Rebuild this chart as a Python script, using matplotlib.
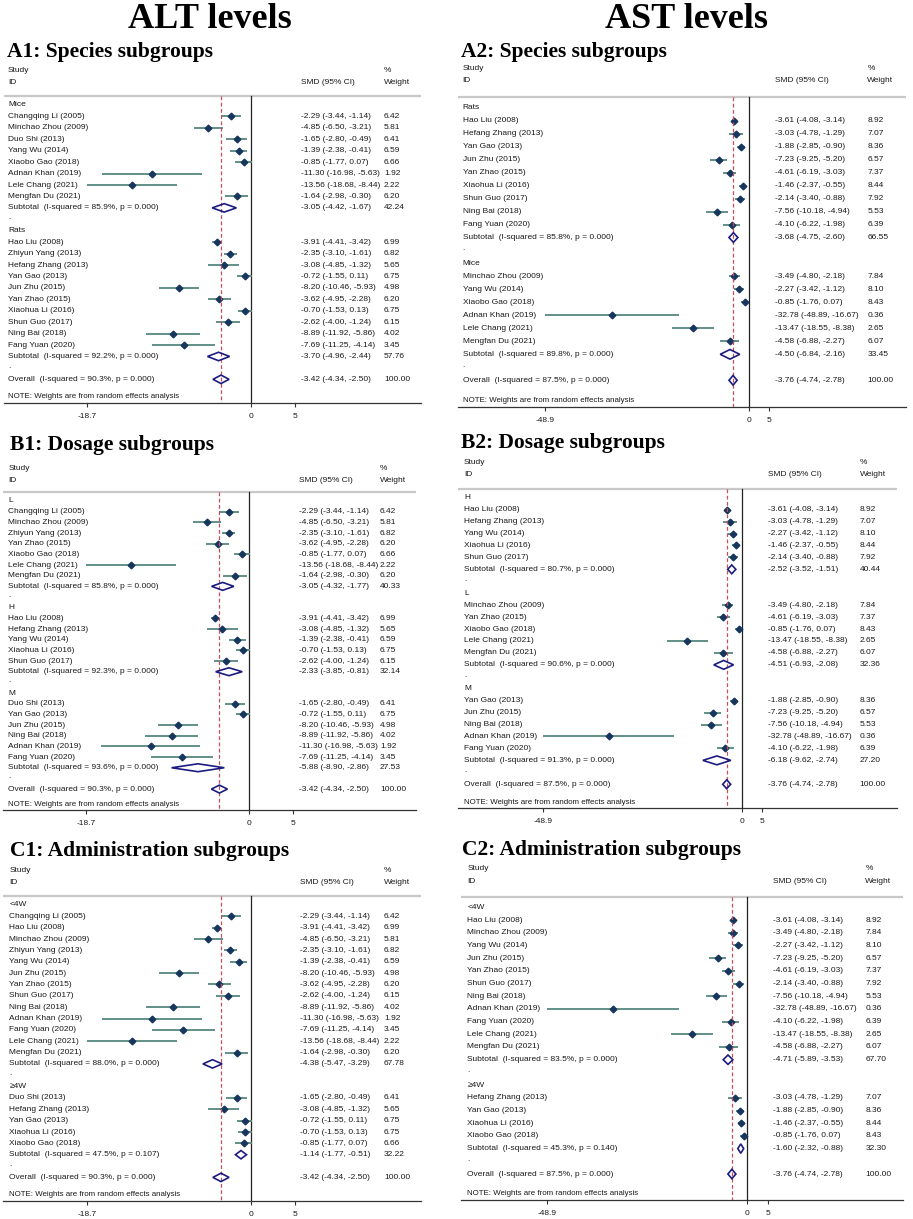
import numpy as np
import matplotlib
matplotlib.use('Agg')
import matplotlib.pyplot as plt
from matplotlib.patches import Polygon

W, H = 913, 1219

# ---- ALT studies ----
alt_study = ['Changqing Li (2005)', 'Minchao Zhou (2009)', 'Duo Shi (2013)', 'Yang Wu (2014)',
             'Xiaobo Gao (2018)', 'Adnan Khan (2019)', 'Lele Chang (2021)', 'Mengfan Du (2021)',
             'Hao Liu (2008)', 'Zhiyun Yang (2013)', 'Hefang Zhang (2013)', 'Yan Gao (2013)',
             'Jun Zhu (2015)', 'Yan Zhao (2015)', 'Xiaohua Li (2016)', 'Shun Guo (2017)',
             'Ning Bai (2018)', 'Fang Yuan (2020)']
alt_smd = [-2.29, -4.85, -1.65, -1.39, -0.85, -11.30, -13.56, -1.64, -3.91,
           -2.35, -3.08, -0.72, -8.20, -3.62, -0.70, -2.62, -8.89, -7.69]
alt_lo = [-3.44, -6.50, -2.80, -2.38, -1.77, -16.98, -18.68, -2.98, -4.41,
          -3.10, -4.85, -1.55, -10.46, -4.95, -1.53, -4.00, -11.92, -11.25]
alt_hi = [-1.14, -3.21, -0.49, -0.41, 0.07, -5.63, -8.44, -0.30, -3.42,
          -1.61, -1.32, 0.11, -5.93, -2.28, 0.13, -1.24, -5.86, -4.14]
alt_wt = [6.42, 5.81, 6.41, 6.59, 6.66, 1.92, 2.22, 6.20, 6.99,
          6.82, 5.65, 6.75, 4.98, 6.20, 6.75, 6.15, 4.02, 3.45]
alt_overall = [-3.42, -4.34, -2.50]
alt_overall_i2, alt_overall_p = 90.3, 0.000

# ---- AST studies ----
ast_study = ['Hao Liu (2008)', 'Hefang Zhang (2013)', 'Yan Gao (2013)', 'Jun Zhu (2015)',
             'Yan Zhao (2015)', 'Xiaohua Li (2016)', 'Shun Guo (2017)', 'Ning Bai (2018)',
             'Fang Yuan (2020)', 'Minchao Zhou (2009)', 'Yang Wu (2014)', 'Xiaobo Gao (2018)',
             'Adnan Khan (2019)', 'Lele Chang (2021)', 'Mengfan Du (2021)']
ast_smd = [-3.61, -3.03, -1.88, -7.23, -4.61, -1.46, -2.14, -7.56,
           -4.10, -3.49, -2.27, -0.85, -32.78, -13.47, -4.58]
ast_lo = [-4.08, -4.78, -2.85, -9.25, -6.19, -2.37, -3.40, -10.18,
          -6.22, -4.80, -3.42, -1.76, -48.89, -18.55, -6.88]
ast_hi = [-3.14, -1.29, -0.90, -5.20, -3.03, -0.55, -0.88, -4.94,
          -1.98, -2.18, -1.12, 0.07, -16.67, -8.38, -2.27]
ast_wt = [8.92, 7.07, 8.36, 6.57, 7.37, 8.44, 7.92, 5.53,
          6.39, 7.84, 8.10, 8.43, 0.36, 2.65, 6.07]
ast_overall = [-3.76, -4.74, -2.78]
ast_overall_i2, ast_overall_p = 87.5, 0.000

# ---- subgroups ----
a1_groups = ['Mice', 'Rats']
a1_members = [['Changqing Li (2005)', 'Minchao Zhou (2009)', 'Duo Shi (2013)', 'Yang Wu (2014)',
               'Xiaobo Gao (2018)', 'Adnan Khan (2019)', 'Lele Chang (2021)', 'Mengfan Du (2021)'],
              ['Hao Liu (2008)', 'Zhiyun Yang (2013)', 'Hefang Zhang (2013)', 'Yan Gao (2013)',
               'Jun Zhu (2015)', 'Yan Zhao (2015)', 'Xiaohua Li (2016)', 'Shun Guo (2017)',
               'Ning Bai (2018)', 'Fang Yuan (2020)']]
a1_i2 = [85.9, 92.2]
a1_p = [0.000, 0.000]
a1_sub = [[-3.05, -4.42, -1.67], [-3.70, -4.96, -2.44]]
a1_sub_wt = [42.24, 57.76]

b1_groups = ['L', 'H', 'M']
b1_members = [['Changqing Li (2005)', 'Minchao Zhou (2009)', 'Zhiyun Yang (2013)', 'Yan Zhao (2015)',
               'Xiaobo Gao (2018)', 'Lele Chang (2021)', 'Mengfan Du (2021)'],
              ['Hao Liu (2008)', 'Hefang Zhang (2013)', 'Yang Wu (2014)', 'Xiaohua Li (2016)',
               'Shun Guo (2017)'],
              ['Duo Shi (2013)', 'Yan Gao (2013)', 'Jun Zhu (2015)', 'Ning Bai (2018)',
               'Adnan Khan (2019)', 'Fang Yuan (2020)']]
b1_i2 = [85.8, 92.3, 93.6]
b1_p = [0.000, 0.000, 0.000]
b1_sub = [[-3.05, -4.32, -1.77], [-2.33, -3.85, -0.81], [-5.88, -8.90, -2.86]]
b1_sub_wt = [40.33, 32.14, 27.53]

c1_groups = ['<4W', '\u22654W']
c1_members = [['Changqing Li (2005)', 'Hao Liu (2008)', 'Minchao Zhou (2009)', 'Zhiyun Yang (2013)',
               'Yang Wu (2014)', 'Jun Zhu (2015)', 'Yan Zhao (2015)', 'Shun Guo (2017)',
               'Ning Bai (2018)', 'Adnan Khan (2019)', 'Fang Yuan (2020)', 'Lele Chang (2021)',
               'Mengfan Du (2021)'],
              ['Duo Shi (2013)', 'Hefang Zhang (2013)', 'Yan Gao (2013)', 'Xiaohua Li (2016)',
               'Xiaobo Gao (2018)']]
c1_i2 = [88.0, 47.5]
c1_p = [0.000, 0.107]
c1_sub = [[-4.38, -5.47, -3.29], [-1.14, -1.77, -0.51]]
c1_sub_wt = [67.78, 32.22]

a2_groups = ['Rats', 'Mice']
a2_members = [['Hao Liu (2008)', 'Hefang Zhang (2013)', 'Yan Gao (2013)', 'Jun Zhu (2015)',
               'Yan Zhao (2015)', 'Xiaohua Li (2016)', 'Shun Guo (2017)', 'Ning Bai (2018)',
               'Fang Yuan (2020)'],
              ['Minchao Zhou (2009)', 'Yang Wu (2014)', 'Xiaobo Gao (2018)', 'Adnan Khan (2019)',
               'Lele Chang (2021)', 'Mengfan Du (2021)']]
a2_i2 = [85.8, 89.8]
a2_p = [0.000, 0.000]
a2_sub = [[-3.68, -4.75, -2.60], [-4.50, -6.84, -2.16]]
a2_sub_wt = [66.55, 33.45]

b2_groups = ['H', 'L', 'M']
b2_members = [['Hao Liu (2008)', 'Hefang Zhang (2013)', 'Yang Wu (2014)', 'Xiaohua Li (2016)',
               'Shun Guo (2017)'],
              ['Minchao Zhou (2009)', 'Yan Zhao (2015)', 'Xiaobo Gao (2018)', 'Lele Chang (2021)',
               'Mengfan Du (2021)'],
              ['Yan Gao (2013)', 'Jun Zhu (2015)', 'Ning Bai (2018)', 'Adnan Khan (2019)',
               'Fang Yuan (2020)']]
b2_i2 = [80.7, 90.6, 91.3]
b2_p = [0.000, 0.000, 0.000]
b2_sub = [[-2.52, -3.52, -1.51], [-4.51, -6.93, -2.08], [-6.18, -9.62, -2.74]]
b2_sub_wt = [40.44, 32.36, 27.20]

c2_groups = ['<4W', '\u22654W']
c2_members = [['Hao Liu (2008)', 'Minchao Zhou (2009)', 'Yang Wu (2014)', 'Jun Zhu (2015)',
               'Yan Zhao (2015)', 'Shun Guo (2017)', 'Ning Bai (2018)', 'Adnan Khan (2019)',
               'Fang Yuan (2020)', 'Lele Chang (2021)', 'Mengfan Du (2021)'],
              ['Hefang Zhang (2013)', 'Yan Gao (2013)', 'Xiaohua Li (2016)', 'Xiaobo Gao (2018)']]
c2_i2 = [83.5, 45.3]
c2_p = [0.000, 0.140]
c2_sub = [[-4.71, -5.89, -3.53], [-1.60, -2.32, -0.88]]
c2_sub_wt = [67.70, 32.30]

alt_ticks = [-18.7, 0, 5]
ast_ticks = [-48.9, 0, 5]

# ---- styling ----
SANS = ['Liberation Sans', 'DejaVu Sans']
SERIF = ['Liberation Serif', 'DejaVu Serif']
FS = 6.05
CI_COL = '#55877f'
PT_COL = '#17365d'
DIA_COL = '#1c1c80'
RED = '#c4505a'

fig = plt.figure(figsize=(W / 100, H / 100), dpi=100)


def fmt_ci(v):
    return '{:.2f} ({:.2f}, {:.2f})'.format(v[0], v[1], v[2])


def draw_panel(geo, title, study, smd, lo, hi, wt, groups, members, i2, pv, sub, sub_wt,
               overall, ov_i2, ov_p, ticks):
    ppu = (geo['x0'] - geo['xneg']) / (-ticks[0])
    row0, dy = geo['row0'], geo['dy']
    top_px = geo['study_y'] - 10
    ax = fig.add_axes([geo['axL'] / W, 1 - geo['axB'] / H,
                       (geo['axR'] - geo['axL']) / W, (geo['axB'] - top_px) / H])
    ax.set_xlim((geo['axL'] - geo['x0']) / ppu, (geo['axR'] - geo['x0']) / ppu)
    ybot = (geo['axB'] - row0) / dy
    ax.set_ylim(ybot, (top_px - row0) / dy)

    def px(p):
        return (p - geo['x0']) / ppu

    def ry(p):
        return (p - row0) / dy

    lab_x, smd_x, w_x = px(geo['lab_x']), px(geo['smd_x']), px(geo['w_x'])
    kw = dict(fontsize=FS, family=SANS, va='center', ha='left', color='#1a1a1a', clip_on=False)

    # header
    ax.text(lab_x, ry(geo['study_y']), 'Study', **kw)
    ax.text(lab_x, ry(geo['id_y']), 'ID', **kw)
    ax.text(smd_x, ry(geo['id_y']), 'SMD (95% CI)', **kw)
    ax.text(w_x, ry(geo['study_y']), '%', **kw)
    ax.text(w_x, ry(geo['id_y']), 'Weight', **kw)
    hdr = ry(geo['hdr'])
    ax.axhline(hdr, color='#c8c8c8', lw=1.6, zorder=1)

    # reference lines
    ax.plot([0, 0], [hdr, ybot], color='#222222', lw=0.9, zorder=2)
    ax.plot([overall[0], overall[0]], [hdr, ybot], color=RED, lw=0.9,
            ls=(0, (3, 2)), zorder=5)

    def diamond(y, v):
        hh = 0.37
        poly = Polygon([(v[1], y), (v[0], y - hh), (v[2], y), (v[0], y + hh)],
                       closed=True, facecolor='none', edgecolor=DIA_COL, lw=1.2, zorder=6)
        ax.add_patch(poly)

    r = 0
    for g, grp in enumerate(groups):
        ax.text(lab_x, r, grp, **kw)
        r += 1
        for name in members[g]:
            k = study.index(name)
            ax.plot([lo[k], hi[k]], [r, r], color=CI_COL, lw=1.3, solid_capstyle='butt', zorder=3)
            ax.plot([smd[k]], [r], marker='D', ms=3.4, color=PT_COL, zorder=4)
            ax.text(lab_x, r, name, **kw)
            ax.text(smd_x, r, fmt_ci([smd[k], lo[k], hi[k]]), **kw)
            ax.text(w_x, r, '{:.2f}'.format(wt[k]), **kw)
            r += 1
        diamond(r, sub[g])
        ax.text(lab_x, r, 'Subtotal  (I-squared = {:.1f}%, p = {:.3f})'.format(i2[g], pv[g]), **kw)
        ax.text(smd_x, r, fmt_ci(sub[g]), **kw)
        ax.text(w_x, r, '{:.2f}'.format(sub_wt[g]), **kw)
        r += 1
        ax.text(lab_x, r - 0.15, '.', **kw)
        r += 1
    diamond(r, overall)
    ax.text(lab_x, r, 'Overall  (I-squared = {:.1f}%, p = {:.3f})'.format(ov_i2, ov_p), **kw)
    ax.text(smd_x, r, fmt_ci(overall), **kw)
    ax.text(w_x, r, '100.00', **kw)
    kw2 = dict(kw)
    kw2['fontsize'] = 5.7
    ax.text(lab_x, ry(geo['note_y']), 'NOTE: Weights are from random effects analysis', **kw2)

    for s in ['top', 'left', 'right']:
        ax.spines[s].set_visible(False)
    ax.spines['bottom'].set_color('#333333')
    ax.spines['bottom'].set_linewidth(0.9)
    ax.set_yticks([])
    ax.set_xticks(ticks)
    ax.set_xticklabels([('{:g}'.format(t)) for t in ticks], fontsize=FS, family=SANS)
    ax.tick_params(axis='x', direction='out', length=3, width=0.8, color='#333333',
                   pad=4.5, labelcolor='#1a1a1a')
    ax.patch.set_alpha(0)

    fig.text(geo['title_x'] / W, 1 - geo['title_base'] / H, title, fontsize=15.5,
             family=SERIF, weight='bold', va='baseline', ha='left')


geo_a1 = dict(axL=4, axR=421, x0=251, xneg=87, hdr=96, study_y=71, id_y=82, row0=105,
              dy=11.43, note_y=397, axB=402.5, title_x=7, title_base=57,
              lab_x=8, smd_x=301, w_x=384)
geo_b1 = dict(axL=3, axR=416, x0=249.3, xneg=86, hdr=492, study_y=469, id_y=480, row0=501,
              dy=10.67, note_y=804, axB=810, title_x=10, title_base=450,
              lab_x=8.3, smd_x=299, w_x=380)
geo_c1 = dict(axL=3, axR=420.7, x0=251, xneg=86.7, hdr=896, study_y=870.7, id_y=882, row0=905,
              dy=11.35, note_y=1194.7, axB=1200.7, title_x=10, title_base=856,
              lab_x=9.3, smd_x=300, w_x=384)
geo_a2 = dict(axL=458, axR=906, x0=748.7, xneg=545.3, hdr=97.3, study_y=69, id_y=81, row0=107.7,
              dy=12.98, note_y=400, axB=406.7, title_x=461, title_base=56.5,
              lab_x=462.7, smd_x=774.7, w_x=867.3)
geo_b2 = dict(axL=458, axR=897.3, x0=742, xneg=543, hdr=489, study_y=462.7, id_y=475, row0=497.7,
              dy=11.94, note_y=802.3, axB=807.7, title_x=461, title_base=447.7,
              lab_x=464, smd_x=768, w_x=859.7)
geo_c2 = dict(axL=461, axR=903, x0=747.3, xneg=547, hdr=897.3, study_y=869, id_y=881.3, row0=907.3,
              dy=12.7, note_y=1193.3, axB=1200, title_x=462, title_base=855,
              lab_x=467.3, smd_x=773, w_x=865.3)

alt = (alt_study, alt_smd, alt_lo, alt_hi, alt_wt)
ast = (ast_study, ast_smd, ast_lo, ast_hi, ast_wt)

draw_panel(geo_a1, 'A1: Species subgroups', *alt, a1_groups, a1_members, a1_i2, a1_p,
           a1_sub, a1_sub_wt, alt_overall, alt_overall_i2, alt_overall_p, alt_ticks)
draw_panel(geo_b1, 'B1: Dosage subgroups', *alt, b1_groups, b1_members, b1_i2, b1_p,
           b1_sub, b1_sub_wt, alt_overall, alt_overall_i2, alt_overall_p, alt_ticks)
draw_panel(geo_c1, 'C1: Administration subgroups', *alt, c1_groups, c1_members, c1_i2, c1_p,
           c1_sub, c1_sub_wt, alt_overall, alt_overall_i2, alt_overall_p, alt_ticks)
draw_panel(geo_a2, 'A2: Species subgroups', *ast, a2_groups, a2_members, a2_i2, a2_p,
           a2_sub, a2_sub_wt, ast_overall, ast_overall_i2, ast_overall_p, ast_ticks)
draw_panel(geo_b2, 'B2: Dosage subgroups', *ast, b2_groups, b2_members, b2_i2, b2_p,
           b2_sub, b2_sub_wt, ast_overall, ast_overall_i2, ast_overall_p, ast_ticks)
draw_panel(geo_c2, 'C2: Administration subgroups', *ast, c2_groups, c2_members, c2_i2, c2_p,
           c2_sub, c2_sub_wt, ast_overall, ast_overall_i2, ast_overall_p, ast_ticks)

fig.text(209.5 / W, 1 - 28 / H, 'ALT levels', fontsize=26, family=SERIF, weight='bold',
         ha='center', va='baseline')
fig.text(686 / W, 1 - 28 / H, 'AST levels', fontsize=26, family=SERIF, weight='bold',
         ha='center', va='baseline')

fig.savefig('out.png', dpi=100, facecolor='white')
